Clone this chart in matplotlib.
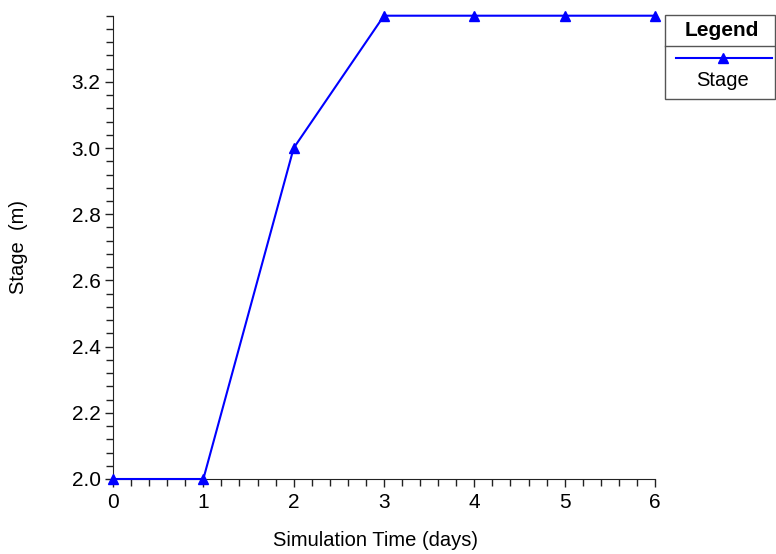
import matplotlib
matplotlib.use("Agg")
from matplotlib import pyplot as plt
from matplotlib.ticker import MultipleLocator, FormatStrFormatter
from matplotlib.patches import Rectangle
from matplotlib.lines import Line2D

plt.rcParams['font.family'] = ['Liberation Sans', 'DejaVu Sans']

# data
days = [0, 1, 2, 3, 4, 5, 6]
stage = [2.0, 2.0, 3.0, 3.4, 3.4, 3.4, 3.4]
series_name = "Stage"

W, H = 776, 554
fig = plt.figure(figsize=(W/100, H/100), dpi=100)
ax = fig.add_axes([113/W, 1-479/H, (655-113)/W, (479-15.7)/H])

ax.plot(days, stage, '-', color='#0000ff', lw=1.5, marker='^', ms=6.5, clip_on=False, zorder=5)

ax.set_xlim(0, 6)
ax.set_ylim(2.0, 3.4)
ax.xaxis.set_major_locator(MultipleLocator(1))
ax.xaxis.set_minor_locator(MultipleLocator(0.2))
ax.set_yticks([2.0, 2.2, 2.4, 2.6, 2.8, 3.0, 3.2])
ax.yaxis.set_minor_locator(MultipleLocator(0.04))
ax.yaxis.set_major_formatter(FormatStrFormatter('%.1f'))

for s in ['top', 'right']:
    ax.spines[s].set_visible(False)
for s in ['left', 'bottom']:
    ax.spines[s].set_color('#222222')
ax.tick_params(which='major', direction='out', length=6, width=1, color='#222222', labelsize=15, pad=3)
ax.tick_params(which='minor', direction='out', length=5, width=1, color='#222222')
ax.tick_params(axis='x', which='major', pad=4)

ax.set_xlabel("Simulation Time (days)", fontsize=14.5)
ax.xaxis.set_label_coords(0.485, (479-541)/(479-15.7))
ax.xaxis.label.set_va('center')
ax.set_ylabel("Stage  (m)", fontsize=14.5)
ax.yaxis.set_label_coords((18-113)/(655-113), 0.5)
ax.yaxis.label.set_va('center')

# legend box drawn by hand
fig.patches.append(Rectangle((665/W, 1-99/H), 110/W, 84/H, transform=fig.transFigure,
                             fill=False, ec='#555555', lw=1))
fig.add_artist(Line2D([665/W, 775/W], [1-46/H, 1-46/H], transform=fig.transFigure, color='#555555', lw=1))
fig.text(722/W, 1-30/H, "Legend", ha='center', va='center', fontsize=15, fontweight='bold')
fig.add_artist(Line2D([676/W, 772/W], [1-58/H, 1-58/H], transform=fig.transFigure,
                      color='#0000ff', lw=1.5))
fig.add_artist(Line2D([723/W], [1-58/H], transform=fig.transFigure, color='#0000ff', marker='^', ms=6.5, ls='none'))
fig.text(723/W, 1-80/H, series_name, ha='center', va='center', fontsize=14.5)

fig.savefig("out.png", dpi=100)
